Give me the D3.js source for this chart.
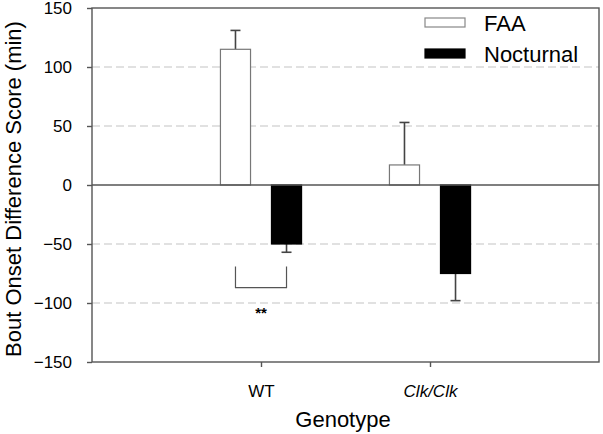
<!DOCTYPE html>
<html><head><meta charset="utf-8">
<script src="https://cdn.jsdelivr.net/npm/d3@7/dist/d3.min.js"></script>
<style>body{margin:0;background:#fff}svg{display:block;font-family:"Liberation Sans",Arial,sans-serif}</style>
</head><body>
<script>
const categories = ["WT", "Clk/Clk"];
const series = ["FAA", "Nocturnal"];
const faaValues = [115, 17];
const faaErrors = [16, 36];
const nocturnalValues = [-50, -75];
const nocturnalErrors = [7, 23];
const yTicks = [-150, -100, -50, 0, 50, 100, 150];
const gridValues = [-100, -50, 50, 100];
const bracket = {from: -69, to: -87, label: "**"};

const W = 603, H = 434;
const svg = d3.select("body").append("svg").attr("width", W).attr("height", H);
const x = d3.scaleLinear().domain([0, 3]).range([92, 599]);
const y = d3.scaleLinear().domain([-150, 150]).range([362, 8]);
const off = 0.151, half = 0.089;
const axisCol = "#555";

// grid
svg.append("g").selectAll("line").data(gridValues).join("line")
  .attr("x1", x(0)).attr("x2", x(3)).attr("y1", d => y(d)).attr("y2", d => y(d))
  .attr("stroke", "#c4c4c4").attr("stroke-width", 1.2).attr("stroke-dasharray", "8,4");

const data = [];
categories.forEach((c, i) => {
  data.push({cat: i + 1, s: 0, v: faaValues[i], e: faaErrors[i]});
  data.push({cat: i + 1, s: 1, v: nocturnalValues[i], e: nocturnalErrors[i]});
});
const cx = d => x(d.cat + (d.s === 0 ? -off : off));

// error bars
const eb = svg.append("g").attr("stroke", "#444").attr("stroke-width", 1.6);
data.forEach(d => {
  const end = d.v >= 0 ? d.v + d.e : d.v - d.e;
  eb.append("line").attr("x1", cx(d)).attr("x2", cx(d)).attr("y1", y(d.v)).attr("y2", y(end));
  eb.append("line").attr("x1", cx(d) - 5).attr("x2", cx(d) + 5).attr("y1", y(end)).attr("y2", y(end));
});

// bars
svg.append("g").selectAll("rect").data(data).join("rect")
  .attr("x", d => x(d.cat + (d.s === 0 ? -off : off) - half))
  .attr("width", d => x(2 * half) - x(0))
  .attr("y", d => y(Math.max(0, d.v)))
  .attr("height", d => Math.abs(y(d.v) - y(0)))
  .attr("fill", d => d.s === 0 ? "#fff" : "#000")
  .attr("stroke", d => d.s === 0 ? "#777" : "#000").attr("stroke-width", 1.2);

// zero line
svg.append("line").attr("x1", x(0)).attr("x2", x(3)).attr("y1", y(0)).attr("y2", y(0))
  .attr("stroke", axisCol).attr("stroke-width", 1.4);

// frame
svg.append("rect").attr("x", x(0)).attr("y", y(150)).attr("width", x(3) - x(0)).attr("height", y(-150) - y(150))
  .attr("fill", "none").attr("stroke", axisCol).attr("stroke-width", 1.4);

// y axis
const ya = svg.append("g").attr("transform", `translate(${x(0)},0)`)
  .call(d3.axisLeft(y).tickValues(yTicks).tickSize(5).tickPadding(15).tickFormat(d3.format("d")));
ya.select(".domain").remove();
ya.selectAll("line").attr("stroke", axisCol).attr("stroke-width", 1.4);
ya.selectAll("text").attr("font-size", 17).attr("fill", "#000").attr("font-family", "Liberation Sans, Arial, sans-serif");

// x axis
const xa = svg.append("g").attr("transform", `translate(0,${y(-150)})`)
  .call(d3.axisBottom(x).tickValues([1, 2]).tickSize(5).tickPadding(18).tickFormat((d, i) => categories[i]));
xa.select(".domain").remove();
xa.selectAll("line").attr("stroke", axisCol).attr("stroke-width", 1.4);
xa.selectAll("text").attr("font-size", 17).attr("fill", "#000").attr("font-family", "Liberation Sans, Arial, sans-serif")
  .attr("font-style", (d, i) => i === 1 ? "italic" : "normal");

// bracket
const bx1 = x(1 - off), bx2 = x(1 + off);
svg.append("path")
  .attr("d", `M${bx1},${y(bracket.from)}V${y(bracket.to)}H${bx2}V${y(bracket.from)}`)
  .attr("fill", "none").attr("stroke", "#555").attr("stroke-width", 1.2);
svg.append("text").attr("x", (bx1 + bx2) / 2).attr("y", 318).attr("text-anchor", "middle")
  .attr("font-size", 15).attr("font-weight", "bold").text(bracket.label);

// titles
svg.append("text").attr("transform", "translate(21,189) rotate(-90)").attr("text-anchor", "middle")
  .attr("font-size", 22).text("Bout Onset Difference Score (min)");
svg.append("text").attr("x", 343).attr("y", 427).attr("text-anchor", "middle")
  .attr("font-size", 22).text("Genotype");

// legend
const lg = svg.append("g");
series.forEach((s, i) => {
  lg.append("rect").attr("x", 425).attr("y", 18 + i * 31).attr("width", 40).attr("height", 9)
    .attr("fill", i === 0 ? "#fff" : "#000").attr("stroke", i === 0 ? "#888" : "#000").attr("stroke-width", 1.2);
  lg.append("text").attr("x", 484).attr("y", 31 + i * 31).attr("font-size", 22).text(s);
});
</script>
</body></html>
